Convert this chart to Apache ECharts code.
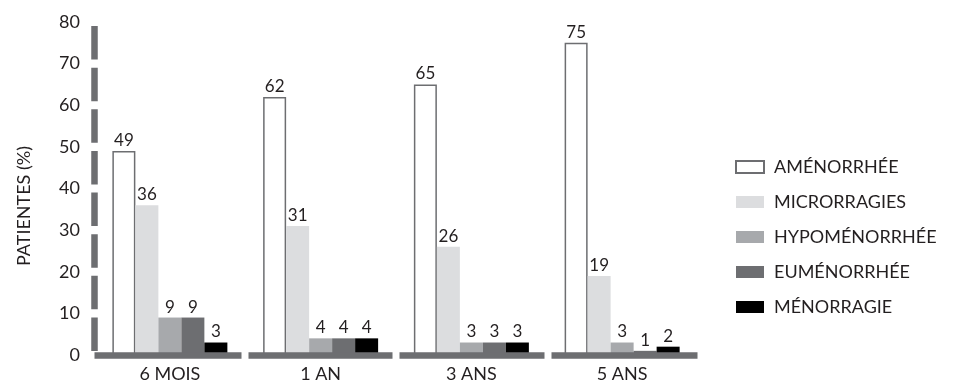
<!DOCTYPE html>
<html>
<head>
<meta charset="utf-8">
<script src="https://cdn.jsdelivr.net/npm/echarts@6/dist/echarts.min.js"></script>
<style>
html,body{margin:0;padding:0;background:#fff;}
#chart{width:956px;height:383px;}
</style>
</head>
<body>
<div id="chart"></div>
<script>
const categories = ['6 MOIS', '1 AN', '3 ANS', '5 ANS'];
const seriesNames = ['AMÉNORRHÉE', 'MICRORRAGIES', 'HYPOMÉNORRHÉE', 'EUMÉNORRHÉE', 'MÉNORRAGIE'];
const amenorrhee = [49, 62, 65, 75];
const microrragies = [36, 31, 26, 19];
const hypomenorrhee = [9, 4, 3, 3];
const eumenorrhee = [9, 4, 3, 1];
const menorragie = [3, 4, 3, 2];
const yTicks = [0, 10, 20, 30, 40, 50, 60, 70, 80];
const yAxisName = 'PATIENTES (%)';

const FONT = 'Lato';
const TXT = '#231f20';
const AXIS = '#6d6e71';

const fills = ['#ffffff', '#dcdddf', '#a7a9ac', '#6d6e71', '#000000'];
const values = [amenorrhee, microrragies, hypomenorrhee, eumenorrhee, menorragie];

const chart = echarts.init(document.getElementById('chart'), null, {renderer: 'canvas'});
chart.setOption({
  animation: false,
  backgroundColor: '#ffffff',
  textStyle: {fontFamily: FONT},
  grid: {left: 94.5, right: 258.5, top: 22, bottom: 28, containLabel: false},
  legend: {
    orient: 'vertical',
    left: 730,
    top: 153,
    padding: 5,
    itemWidth: 28,
    itemHeight: 12,
    itemGap: 17,
    icon: 'rect',
    data: seriesNames,
    textStyle: {fontFamily: FONT, fontSize: 18, color: TXT, lineHeight: 18, padding: [0, 0, 0, 5]}
  },
  xAxis: {
    type: 'category',
    data: categories,
    z: 5,
    axisLine: {show: true, lineStyle: {color: AXIS, width: 6.5, cap: 'butt', type: [147, 7, 144, 7, 145, 7, 200]}},
    axisTick: {show: false},
    axisLabel: {fontFamily: FONT, fontSize: 18, color: TXT, margin: 10}
  },
  yAxis: {
    type: 'value',
    min: yTicks[0],
    max: yTicks[yTicks.length - 1],
    interval: 10,
    name: yAxisName,
    nameLocation: 'middle',
    nameGap: 61,
    nameTextStyle: {fontFamily: FONT, fontSize: 18, color: TXT, padding: [0, 35, 0, 0]},
    axisLine: {show: true, lineStyle: {color: AXIS, width: 6.5, cap: 'butt', type: [33.6, 8.025], dashOffset: 37.6}},
    axisTick: {show: false},
    splitLine: {show: false},
    axisLabel: {fontFamily: FONT, fontSize: 18, color: TXT, margin: 14.5}
  },
  series: seriesNames.map((name, i) => ({
    name: name,
    type: 'bar',
    data: values[i],
    barWidth: 23,
    barGap: '0%',
    itemStyle: i === 0
      ? {color: fills[i], borderColor: AXIS, borderWidth: 1.5}
      : {color: fills[i]},
    label: {show: true, position: 'top', distance: 2, fontFamily: FONT, fontSize: 17, color: TXT}
  }))
});
</script>
</body>
</html>
